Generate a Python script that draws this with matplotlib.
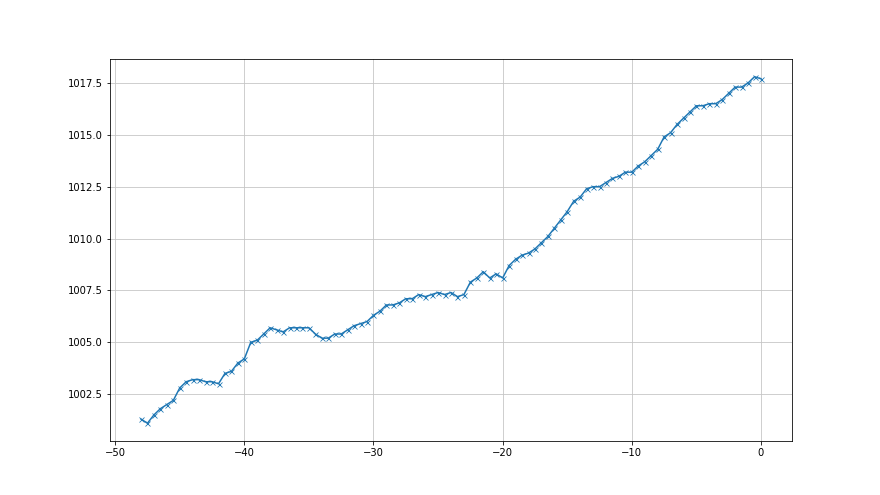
import numpy as np
from matplotlib import pyplot as plt

hours = np.arange(-48, 0.5, 0.5)
pressure = [
    1001.3, 1001.1, 1001.5, 1001.8, 1002.0, 1002.2, 1002.8, 1003.1, 1003.2, 1003.2,
    1003.1, 1003.1, 1003.0, 1003.5, 1003.6, 1004.0, 1004.2, 1005.0, 1005.1, 1005.4,
    1005.7, 1005.6, 1005.5, 1005.7, 1005.7, 1005.7, 1005.7, 1005.4, 1005.2, 1005.2,
    1005.4, 1005.4, 1005.6, 1005.8, 1005.9, 1006.0, 1006.3, 1006.5, 1006.8, 1006.8,
    1006.9, 1007.1, 1007.1, 1007.3, 1007.2, 1007.3, 1007.4, 1007.3, 1007.4, 1007.2,
    1007.3, 1007.9, 1008.1, 1008.4, 1008.1, 1008.3, 1008.1, 1008.7, 1009.0, 1009.2,
    1009.3, 1009.5, 1009.8, 1010.1, 1010.5, 1010.9, 1011.3, 1011.8, 1012.0, 1012.4,
    1012.5, 1012.5, 1012.7, 1012.9, 1013.0, 1013.2, 1013.2, 1013.5, 1013.7, 1014.0,
    1014.3, 1014.9, 1015.1, 1015.5, 1015.8, 1016.1, 1016.4, 1016.4, 1016.5, 1016.5,
    1016.7, 1017.0, 1017.3, 1017.3, 1017.5, 1017.8, 1017.7,
]


def main():
    fig = plt.figure(figsize=(880 / 72, 495 / 72), dpi=72)
    ax = fig.add_subplot(111)
    ax.plot(hours, pressure, 'x-', color='C0', ms=5, mew=0.8)
    ax.grid(True, color='#c4c4c4')
    fig.savefig('out.png', dpi=72)


if __name__ == '__main__':
    main()
